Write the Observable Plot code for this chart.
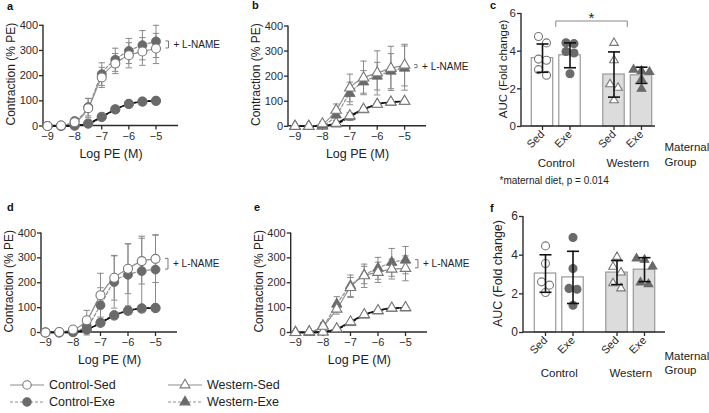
<!DOCTYPE html>
<html><head><meta charset="utf-8">
<script src="https://cdn.jsdelivr.net/npm/d3@7"></script>
<script src="https://cdn.jsdelivr.net/npm/@observablehq/plot@0.6"></script>
<style>
body{margin:0;background:#fff;}
#root{position:relative;width:709px;height:413px;overflow:hidden;font-family:"Liberation Sans",Arial,Helvetica,sans-serif;color:#222;}
.pane{position:absolute;}
.lab{position:absolute;font-weight:bold;font-size:11px;line-height:11px;color:#111;}
svg{overflow:visible;}
</style></head><body><div id="root"></div>
<script>
// ---------------- DATA ----------------
const logPE = [-9, -8.5, -8, -7.5, -7, -6.5, -6, -5.5, -5];
const xTicks = [-9, -8, -7, -6, -5];
const yTicksPE = [0, 100, 200, 300, 400];
const yTicksAUC = [0, 2, 4, 6];
const yTitlePE = "Contraction (% PE)";
const xTitlePE = "Log PE (M)";
const yTitleAUC = "AUC (Fold change)";
const lnameLabel = "+ L-NAME";
const subLabels = ["Sed", "Exe", "Sed", "Exe"];
const groupNames = ["Control", "Western"];
const groupTitleLines = ["Maternal", "Group"];
const captionC = "*maternal diet, p = 0.014";
const sigLabel = "*";
const legendLabels = ["Control-Sed", "Control-Exe", "Western-Sed", "Western-Exe"];
const panelLetters = ["a", "b", "c", "d", "e", "f"];

// panel a (Control-Sed / Control-Exe)
const aSedLN = [0, 2, 15, 71, 193, 248, 281, 296, 308];
const aSedLNsem = [0, 0, 8, 38, 40, 40, 50, 55, 60];
const aExeLN = [0, 2, 20, 75, 206, 263, 298, 321, 336];
const aExeLNsem = [0, 0, 8, 35, 45, 46, 50, 58, 64];
const aSed = [0, 0, 2, 10, 37, 66, 88, 97, 100];
const aSedSem = [0, 0, 1, 3, 5, 5, 4, 2, 0];
const aExe = [0, 0, 1, 9, 35, 66, 87, 97, 100];
const aExeSem = [0, 0, 1, 3, 5, 5, 4, 2, 0];

// panel b (Western-Sed / Western-Exe)
const bSedLN = [0, 0, 10, 64, 153, 193, 213, 231, 244];
const bSedLNsem = [0, 0, 8, 25, 55, 67, 88, 88, 83];
const bExeLN = [0, 0, 5, 45, 131, 177, 200, 220, 232];
const bExeLNsem = [0, 0, 5, 22, 45, 45, 55, 70, 88];
const bSed = [0, 0, 2, 12, 42, 68, 88, 97, 100];
const bSedSem = [0, 0, 1, 4, 12, 8, 6, 3, 0];
const bExe = [0, 0, 1, 9, 38, 66, 88, 96, 99];
const bExeSem = [0, 0, 1, 5, 15, 8, 6, 3, 0];

// panel d
const dSedLN = [0, 2, 12, 49, 150, 220, 256, 287, 296];
const dSedLNsem = [0, 0, 6, 40, 88, 90, 100, 92, 95];
const dExeLN = [0, 0, 5, 25, 110, 203, 232, 247, 253];
const dExeLNsem = [0, 0, 4, 35, 70, 105, 125, 140, 140];
const dSed = [0, 0, 2, 12, 38, 68, 87, 96, 98];
const dSedSem = [0, 0, 1, 3, 5, 5, 4, 3, 2];
const dExe = [0, 0, 1, 11, 40, 70, 88, 97, 99];
const dExeSem = [0, 0, 1, 3, 5, 5, 4, 3, 2];

// panel e
const eSedLN = [0, 3, 25, 94, 181, 228, 242, 255, 258];
const eSedLNsem = [0, 2, 10, 20, 40, 47, 41, 40, 50];
const eExeLN = [0, 3, 28, 114, 188, 231, 258, 282, 291];
const eExeLNsem = [0, 2, 12, 30, 43, 35, 44, 56, 55];
const eSed = [0, 0, 2, 15, 43, 72, 88, 98, 100];
const eSedSem = [0, 0, 1, 3, 5, 5, 4, 3, 0];
const eExe = [0, 0, 2, 13, 40, 70, 87, 97, 99];
const eExeSem = [0, 0, 1, 3, 5, 5, 4, 3, 0];

// panel c (AUC)
const cMean = [3.63, 3.78, 2.76, 2.72];
const cSD = [0.75, 0.66, 1.2, 0.43];
const cCtrlSed = [4.78, 4.44, 3.58, 3.52, 3.02, 2.72];
const cCtrlExe = [4.45, 4.4, 3.98, 3.9, 2.8];
const cWestSed = [4.44, 3.52, 2.24, 2.06, 1.39];
const cWestExe = [3.02, 2.95, 2.9, 2.5, 2.0];

// panel f (AUC)
const fMean = [3.05, 2.85, 3.1, 3.25];
const fSD = [0.97, 1.35, 0.62, 0.62];
const fCtrlSed = [4.48, 3.57, 2.62, 2.45, 2.07];
const fCtrlExe = [4.91, 3.31, 2.28, 2.24, 1.41];
const fWestSed = [3.91, 3.4, 3.1, 2.55, 2.28];
const fWestExe = [3.83, 3.76, 3.41, 2.59, 2.5];

// ---------------- STYLE / LAYOUT ----------------
const FONT = '"Liberation Sans", Arial, Helvetica, sans-serif';
const INK = "#222";
const AXIS = "#2b2b2b";
const GRAY_LINE = "#8e8e8e";
const OPEN_STROKE = "#777";
const FILLED = "#6a6a6a";
const ERR = "#8a8a8a";
const baseStyle = {fontFamily: FONT, fontSize: "11px", color: AXIS, background: "transparent", overflow: "visible"};

const capSym = {draw(ctx, size) { const w = Math.sqrt(size / Math.PI); ctx.moveTo(-w, 0); ctx.lineTo(w, 0); }};

function axisLines(sw = 1.4) {
  return (index, scales, values, dims) => {
    const {width, height, marginLeft, marginRight, marginTop, marginBottom} = dims;
    return d3.create("svg:path")
      .attr("d", `M${marginLeft},${marginTop}V${height - marginBottom}H${width - marginRight}`)
      .attr("fill", "none").attr("stroke", AXIS).attr("stroke-width", sw).node();
  };
}

function rows(y, e) { return logPE.map((x, i) => ({x, y: y[i], e: e[i]})); }

function errMarks(r, stroke = ERR, capR = 3.2, sw = 1) {
  const f = r.filter(d => d.e > 0);
  const caps = f.flatMap(d => [{x: d.x, y: d.y - d.e}, {x: d.x, y: d.y + d.e}]);
  return [
    Plot.ruleX(f, {x: "x", y1: d => d.y - d.e, y2: d => d.y + d.e, stroke, strokeWidth: sw}),
    Plot.dot(caps, {x: "x", y: "y", symbol: capSym, r: capR, stroke, strokeWidth: sw, fill: "none"})
  ];
}

function lnameMark(vals) {
  return (index, scales) => {
    const x = scales.x(logPE[logPE.length - 1]);
    const y1 = scales.y(d3.max(vals)), y2 = scales.y(d3.min(vals));
    const g = d3.create("svg:g");
    g.append("path").attr("d", `M${x + 10},${y1}H${x + 13}V${y2}H${x + 10}`)
      .attr("fill", "none").attr("stroke", "#777").attr("stroke-width", 1);
    g.append("text").attr("x", x + 18).attr("y", (y1 + y2) / 2).attr("dy", "0.35em")
      .attr("text-anchor", "start").attr("font-size", 10).attr("fill", INK).text(lnameLabel);
    return g.node();
  };
}

function linePanel(p) {
  const L = p.layout;
  const upS = rows(p.upSed, p.upSedSem), upE = rows(p.upExe, p.upExeSem);
  const loS = rows(p.loSed, p.loSedSem), loE = rows(p.loExe, p.loExeSem);
  const sym = p.symbol;
  const r = sym === "circle" ? 4.5 : 3.9;
  const open = d => Plot.dot(d, {x: "x", y: "y", symbol: sym, r, fill: "white", stroke: OPEN_STROKE, strokeWidth: 1.1});
  const filled = d => Plot.dot(d, {x: "x", y: "y", symbol: sym, r, fill: FILLED, stroke: FILLED, strokeWidth: 0.8});
  const line = (d, stroke, dash, sw) => Plot.line(d, {x: "x", y: "y", curve: "monotone-x", stroke, strokeWidth: sw, strokeDasharray: dash});
  const markers = sym === "circle"
    ? [open(loS), filled(loE), filled(upE), open(upS)]
    : [filled(loE), open(loS), filled(upE), open(upS)];
  return Plot.plot({
    width: L.width, height: L.height,
    marginLeft: L.ml, marginRight: L.mr, marginTop: L.mt, marginBottom: L.mb,
    x: {domain: L.xDomain}, y: {domain: [0, 400]},
    style: baseStyle,
    marks: [
      axisLines(),
      Plot.axisX({ticks: xTicks, tickFormat: d3.format("d"), tickSize: 4, tickPadding: 2, label: null, strokeWidth: 1.3}),
      Plot.axisY({ticks: yTicksPE, tickSize: 4, tickPadding: 1.5, label: null, strokeWidth: 1.3}),
      Plot.text([yTitlePE], {text: d => d, frameAnchor: "left", textAnchor: "middle", lineAnchor: "middle", rotate: -90, dx: -32, dy: -1.5, fontSize: 12, fill: INK}),
      Plot.text([xTitlePE], {text: d => d, frameAnchor: "bottom", lineAnchor: "middle", dy: 27.5, fontSize: 12.5, fill: INK}),
      ...errMarks(loS), ...errMarks(loE), ...errMarks(upS), ...errMarks(upE),
      line(upS, GRAY_LINE, null, 1.2), line(upE, GRAY_LINE, "3,2", 1.2),
      line(loS, "#111", null, 1.5), line(loE, "#111", "3,2", 1.5),
      ...markers,
      lnameMark([p.upSed[p.upSed.length - 1], p.upExe[p.upExe.length - 1]])
    ]
  });
}

function sigMark(x1v, x2v) {
  return (index, scales, values, dims) => {
    const x1 = scales.x(x1v), x2 = scales.x(x2v), y = dims.marginTop + 8;
    const g = d3.create("svg:g");
    g.append("path").attr("d", `M${x1},${y + 6}V${y}H${x2}V${y + 6}`)
      .attr("fill", "none").attr("stroke", "#888").attr("stroke-width", 1);
    g.append("text").attr("x", (x1 + x2) / 2).attr("y", y + 2).attr("text-anchor", "middle")
      .attr("font-size", 15).attr("fill", INK).text(sigLabel);
    return g.node();
  };
}

function barPanel(p) {
  const L = p.layout;
  const pos = L.barPos;
  const pxX = (L.xRange[1] - L.xRange[0]) / (pos[pos.length - 1] - pos[0]);
  const pxY = (L.height - L.mt - L.mb) / 6;
  const bars = p.mean.map((m, i) => ({pos: pos[i], mean: m, sd: p.sd[i], west: i >= 2}));
  const syms = ["circle", "circle", "triangle", "triangle"];
  const fills = ["white", FILLED, "white", FILLED];
  const step = 8 / pxX;
  const pointMarks = p.points.map((vals, i) => {
    // cluster nearby values and spread each cluster symmetrically
    const sorted = vals.slice().sort((a, b) => b - a);
    const clusters = [];
    sorted.forEach((v, k) => {
      if (k > 0 && (sorted[k - 1] - v) * pxY < 7) clusters[clusters.length - 1].push(v);
      else clusters.push([v]);
    });
    const data = clusters.flatMap(c => c.map((v, k) => ({x: pos[i] + (k - (c.length - 1) / 2) * step, y: v})));
    return Plot.dot(data, {x: "x", y: "y", symbol: syms[i], r: syms[i] === "circle" ? 4 : 3.2,
      fill: fills[i], stroke: fills[i] === "white" ? OPEN_STROKE : FILLED, strokeWidth: 1.1});
  });
  const hw = 0.39;
  const grp = [{x: (pos[0] + pos[1]) / 2, t: groupNames[0]}, {x: (pos[2] + pos[3]) / 2, t: groupNames[1]}];
  const sdRows = bars.map(b => ({x: b.pos, y: b.mean, e: b.sd}));
  const marks = [
    Plot.rectY(bars, {x1: d => d.pos - hw, x2: d => d.pos + hw, y1: 0, y2: "mean",
      fill: d => d.west ? "#dcdcdc" : "white", stroke: "#999", strokeWidth: 1.2}),
    ...pointMarks,
    ...errMarks(sdRows, "#111", 6, 1.6),
    axisLines(),
    Plot.axisX({ticks: pos, tickFormat: d => subLabels[pos.indexOf(d)], tickRotate: -45, tickSize: 4, tickPadding: 2, label: null, strokeWidth: 1.3, fontSize: 11}),
    Plot.axisY({ticks: yTicksAUC, tickFormat: d3.format("d"), tickSize: 4, tickPadding: 1.5, label: null, strokeWidth: 1.3, fontSize: L.tickSize}),
    Plot.text([yTitleAUC], {text: d => d, frameAnchor: "left", textAnchor: "middle", lineAnchor: "middle", rotate: -90, dx: L.ytDx, dy: -1, fontSize: L.ytSize, fill: INK}),
    Plot.text(grp, {x: "x", text: "t", frameAnchor: "bottom", lineAnchor: "middle", dy: L.grpDy, fontSize: 11.5, fill: INK}),
    Plot.text([groupTitleLines[0]], {text: d => d, frameAnchor: "bottom-right", textAnchor: "start", lineAnchor: "middle", dx: L.gtDx, dy: L.gtDy[0], fontSize: 11.5, fill: INK}),
    Plot.text([groupTitleLines[1]], {text: d => d, frameAnchor: "bottom-right", textAnchor: "start", lineAnchor: "middle", dx: L.gtDx, dy: L.gtDy[1], fontSize: 11.5, fill: INK})
  ];
  if (p.caption) marks.push(Plot.text([p.caption], {text: d => d, frameAnchor: "bottom-left", textAnchor: "start", lineAnchor: "middle", dx: -22, dy: 54, fontSize: 10, fill: INK}));
  if (p.sig) marks.push(sigMark(grp[0].x, grp[1].x));
  return Plot.plot({
    width: L.width, height: L.height,
    marginLeft: L.ml, marginRight: L.mr, marginTop: L.mt, marginBottom: L.mb,
    x: {type: "linear", domain: [pos[0], pos[pos.length - 1]], range: L.xRange},
    y: {domain: [0, 6]},
    style: baseStyle,
    marks
  });
}

// ---------------- BUILD ----------------
const root = document.getElementById("root");
function place(node, left, top) {
  const d = document.createElement("div");
  d.className = "pane"; d.style.left = left + "px"; d.style.top = top + "px";
  d.appendChild(node); root.appendChild(d);
}

const barPos = [0, 1, 2.6, 3.6];

place(linePanel({symbol: "circle", upSed: aSedLN, upSedSem: aSedLNsem, upExe: aExeLN, upExeSem: aExeLNsem,
  loSed: aSed, loSedSem: aSedSem, loExe: aExe, loExeSem: aExeSem,
  layout: {width: 230, height: 165, ml: 43, mr: 52, mt: 24.8, mb: 39.5, xDomain: [-9.147, -4.17]}}), 0, 0);
place(linePanel({symbol: "triangle", upSed: bSedLN, upSedSem: bSedLNsem, upExe: bExeLN, upExeSem: bExeLNsem,
  loSed: bSed, loSedSem: bSedSem, loExe: bExe, loExeSem: bExeSem,
  layout: {width: 230, height: 165, ml: 58, mr: 34, mt: 25.5, mb: 39.2, xDomain: [-9.24, -4.2]}}), 230, 0);
place(linePanel({symbol: "circle", upSed: dSedLN, upSedSem: dSedLNsem, upExe: dExeLN, upExeSem: dExeLNsem,
  loSed: dSed, loSedSem: dSedSem, loExe: dExe, loExeSem: dExeSem,
  layout: {width: 230, height: 165, ml: 41, mr: 53, mt: 25.5, mb: 40, xDomain: [-9.145, -4.2]}}), 0, 207);
place(linePanel({symbol: "triangle", upSed: eSedLN, upSedSem: eSedLNsem, upExe: eExeLN, upExeSem: eExeLNsem,
  loSed: eSed, loSedSem: eSedSem, loExe: eExe, loExeSem: eExeSem,
  layout: {width: 230, height: 165, ml: 60.7, mr: 33, mt: 25.5, mb: 40, xDomain: [-9.156, -4.2]}}), 230, 207);

place(barPanel({mean: cMean, sd: cSD, points: [cCtrlSed, cCtrlExe, cWestSed, cWestExe], caption: captionC, sig: true,
  layout: {width: 249, height: 195, ml: 61, mr: 54, mt: 13, mb: 69, barPos, xRange: [82, 181],
    ytDx: -18, ytSize: 11.5, tickSize: 11.5, grpDy: 37, gtDx: 9, gtDy: [21, 36]}}), 460, 0);
place(barPanel({mean: fMean, sd: fSD, points: [fCtrlSed, fCtrlExe, fWestSed, fWestExe],
  layout: {width: 249, height: 195, ml: 63, mr: 44, mt: 11, mb: 68, barPos, xRange: [85, 184],
    ytDx: -26, ytSize: 12.5, tickSize: 12, grpDy: 41, gtDx: -1, gtDy: [24, 38]}}), 460, 205);

// panel letters
const letterPos = [[7, 1], [252, 0], [490, 0], [7, 202], [254, 202], [490, 203]];
panelLetters.forEach((t, i) => {
  const d = document.createElement("div");
  d.className = "lab"; d.textContent = t;
  d.style.left = letterPos[i][0] + "px"; d.style.top = letterPos[i][1] + "px";
  root.appendChild(d);
});

// legend
const lg = d3.create("svg").attr("width", 330).attr("height", 38).style("overflow", "visible");
const legendItems = legendLabels.map((t, i) => ({t, circle: i < 2, filled: i % 2 === 1,
  x0: i < 2 ? 10 : 168, row: i % 2}));
legendItems.forEach(it => {
  const y = 10 + it.row * 17;
  const g = lg.append("g");
  g.append("line").attr("x1", it.x0).attr("x2", it.x0 + 34).attr("y1", y).attr("y2", y)
    .attr("stroke", GRAY_LINE).attr("stroke-width", 1.2).attr("stroke-dasharray", it.filled ? "3,2" : null);
  g.append("path").attr("d", d3.symbol(it.circle ? d3.symbolCircle : d3.symbolTriangle, it.circle ? 56 : 42)())
    .attr("transform", `translate(${it.x0 + 17},${y})`)
    .attr("fill", it.filled ? FILLED : "white").attr("stroke", it.filled ? FILLED : OPEN_STROKE).attr("stroke-width", 1.1);
  g.append("text").attr("x", it.x0 + 39).attr("y", y).attr("dy", "0.35em").attr("font-size", 12.5)
    .attr("font-family", FONT).attr("fill", INK).text(it.t);
});
place(lg.node(), 0, 375);
</script></body></html>
